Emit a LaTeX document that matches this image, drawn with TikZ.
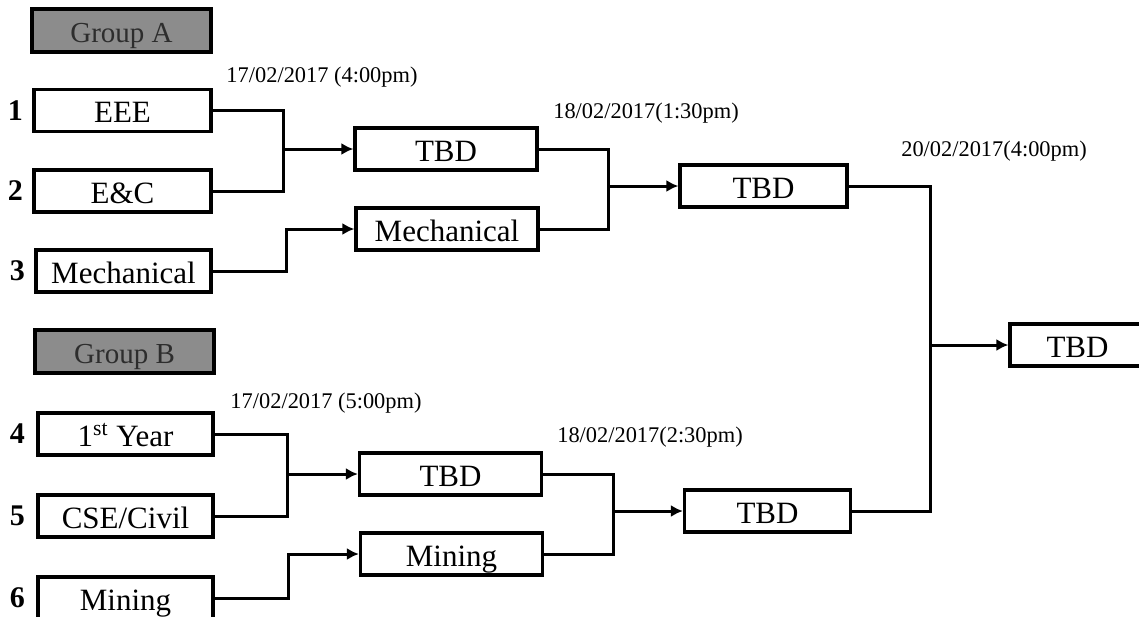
\documentclass[tikz,border=0pt]{standalone}
\usepackage{fontspec}
\setmainfont{Liberation Serif}
\usetikzlibrary{arrows.meta}
\usetikzlibrary{positioning}
\definecolor{groupgray}{RGB}{140,140,140}
\definecolor{grouptext}{RGB}{45,45,45}

\begin{document}
\begin{tikzpicture}[x=0.5pt,y=-0.5pt,
                    team/.style={draw,line width=1.6pt,inner sep=0pt,minimum height=21pt,
                        text height=12.3pt,text depth=0pt,font=\fontsize{15.5}{18}\selectfont},
                    groupbox/.style={draw,line width=1.6pt,fill=groupgray,text=grouptext,inner sep=0pt,
                        minimum width=89.5pt,minimum height=21.5pt,text height=11.6pt,text depth=0pt,
                        font=\fontsize{14.5}{16}\selectfont},
                    seed/.style={inner sep=0pt,font=\fontsize{15}{16}\selectfont\bfseries},
                    when/.style={inner sep=0pt,font=\fontsize{11.2}{12}\selectfont},
                    wire/.style={line width=1.5pt},
                    advance/.style={wire,-{Latex[length=6pt,width=6pt]}}]
                    \useasboundingbox (0,0) rectangle (1139,616);
                    \node[groupbox] (grpA) at (121.5,30.5) {Group A};
                    \node[groupbox] (grpB) at (124.5,351.5) {Group B};
                    \node[team,minimum width=88.5pt] (eee) at (122.5,110.5) {EEE};
                    \node[team,minimum width=88.5pt] (ec) at (122.5,191) {E\&C};
                    \node[team,minimum width=87.5pt] (mechA) at (123.5,271) {Mechanical};
                    \node[team,minimum width=87.5pt] (yr1) at (125.5,434) {1\textsuperscript{st} Year};
                    \node[team,minimum width=87.5pt] (cse) at (125.5,516) {CSE/Civil};
                    \node[team,minimum width=87.5pt] (minA) at (125.5,598) {Mining};
                    \node[seed,left=4.5pt of eee] (s1) {1};
                    \node[seed,left=4.5pt of ec] (s2) {2};
                    \node[seed,left=4.5pt of mechA] (s3) {3};
                    \node[seed,left=5.5pt of yr1] (s4) {4};
                    \node[seed,left=5.5pt of cse] (s5) {5};
                    \node[seed,left=5.5pt of minA] (s6) {6};
                    \node[team,minimum width=91pt] (tbdA) at (446,149) {TBD};
                    \node[team,minimum width=91pt] (mechB) at (447,229) {Mechanical};
                    \node[team,minimum width=91pt] (tbdB) at (450.5,474) {TBD};
                    \node[team,minimum width=91pt] (minB) at (451.5,554) {Mining};
                    \node[team,minimum width=83.5pt] (tbdC) at (763.5,186) {TBD};
                    \node[team,minimum width=83pt] (tbdD) at (767.5,511) {TBD};
                    \node[team,minimum width=67.5pt] (champ) at (1077.5,345) {TBD};
                    \node[when] (dA) at (322,77) {17/02/2017 (4:00pm)};
                    \node[when] (dB) at (326,403) {17/02/2017 (5:00pm)};
                    \node[when] (dC) at (646,113) {18/02/2017(1:30pm)};
                    \node[when] (dD) at (650,437) {18/02/2017(2:30pm)};
                    \node[when] (dE) at (994,151) {20/02/2017(4:00pm)};
                    \coordinate (jA) at (283,149);
                    \coordinate (jB) at (608,186);
                    \coordinate (jC) at (287,474);
                    \coordinate (jD) at (613,511);
                    \coordinate (jE) at (930,345);
                    \draw[wire] (eee.east) -| (jA) |- (ec.east);
                    \draw[advance] (jA) -- (tbdA.west);
                    \draw[advance] (mechA.east) -- ++(74,0) |- (mechB.west);
                    \draw[wire] (yr1.east) -| (jC) |- (cse.east);
                    \draw[advance] (jC) -- (tbdB.west);
                    \draw[advance] (minA.east) -- ++(74,0) |- (minB.west);
                    \draw[wire] (tbdA.east) -| (jB) |- (mechB.east);
                    \draw[advance] (jB) -- (tbdC.west);
                    \draw[wire] (tbdB.east) -| (jD) |- (minB.east);
                    \draw[advance] (jD) -- (tbdD.west);
                    \draw[wire] (tbdC.east) -| (jE) |- (tbdD.east);
                    \draw[advance] (jE) -- (champ.west);
                \end{tikzpicture}
\end{document}
